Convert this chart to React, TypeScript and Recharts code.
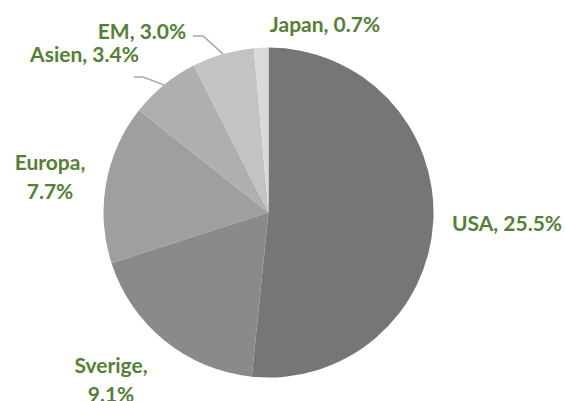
import { PieChart, Pie, Cell } from 'recharts';

const regions = ['USA', 'Sverige', 'Europa', 'Asien', 'EM', 'Japan'];
const shares = [25.5, 9.1, 7.7, 3.4, 3.0, 0.7];
const colors = ['#767676', '#8a8a8a', '#9f9f9f', '#afafaf', '#c3c3c3', '#d9d9d9'];

// label placement relative to pie centre: text anchor (dx, baseline dy), whether the label wraps,
// and an optional leader elbow (dx, dy from centre)
const labelLayout = [
  { dx: 238.5, dy: 18.5, wrap: false, elbow: null },
  { dx: -157.5, dy: 160, wrap: true, elbow: null },
  { dx: -218.5, dy: -42.5, wrap: true, elbow: null },
  { dx: -184, dy: -151, wrap: false, elbow: { x: -125.5, y: -135.5, endX: -134.5 } },
  { dx: -126.5, dy: -174, wrap: false, elbow: { x: -65.5, y: -176.5, endX: -75.5 } },
  { dx: 56.5, dy: -180.5, wrap: false, elbow: null },
];

const data = regions.map((name, i) => ({ name, value: shares[i] }));

const RAD = Math.PI / 180;
const GREEN = '#538135';

if (typeof document !== 'undefined') document.body.style.margin = '0';

function renderLabel(props: any) {
  const { cx, cy, midAngle, outerRadius, index, name, value } = props;
  const lay = labelLayout[index];
  const x = cx + lay.dx;
  const y = cy + lay.dy;
  const txt = `${name}, ${value.toFixed(1)}%`;
  let line = null;
  if (lay.elbow) {
    const ex = cx + outerRadius * Math.cos(-midAngle * RAD);
    const ey = cy + outerRadius * Math.sin(-midAngle * RAD);
    line = (
      <polyline
        points={`${ex},${ey} ${cx + lay.elbow.x},${cy + lay.elbow.y} ${cx + lay.elbow.endX},${cy + lay.elbow.y}`}
        fill="none"
        stroke="#a6a6a6"
        strokeWidth={1.5}
      />
    );
  }
  return (
    <g key={`lbl-${index}`}>
      {line}
      <text
        x={x}
        y={y}
        textAnchor="middle"
        fill={GREEN}
        fontFamily="Lato, 'Open Sans', sans-serif"
        fontWeight={700}
        fontSize={21}
      >
        {lay.wrap ? (
          <>
            <tspan x={x} dy={0}>{`${name},`}</tspan>
            <tspan x={x} dy={29}>{`${value.toFixed(1)}%`}</tspan>
          </>
        ) : (
          txt
        )}
      </text>
    </g>
  );
}

export default function App() {
  return (
    <div style={{ width: 565, height: 401, background: '#fff' }}>
      <PieChart width={565} height={401} margin={{ top: 0, right: 0, bottom: 0, left: 0 }}>
        <defs>
          <filter id="pieShadow" x="-10%" y="-10%" width="120%" height="120%">
            <feDropShadow dx="0" dy="0" stdDeviation="3" floodColor="#000" floodOpacity="0.25" />
          </filter>
        </defs>
        <Pie
          data={data}
          dataKey="value"
          nameKey="name"
          cx={268.5}
          cy={212.5}
          outerRadius={165}
          startAngle={90}
          endAngle={-270}
          stroke="none"
          label={renderLabel}
          labelLine={false}
          isAnimationActive={false}
        >
          {data.map((d, i) => (
            <Cell key={d.name} fill={colors[i]} />
          ))}
        </Pie>
      </PieChart>
    </div>
  );
}
